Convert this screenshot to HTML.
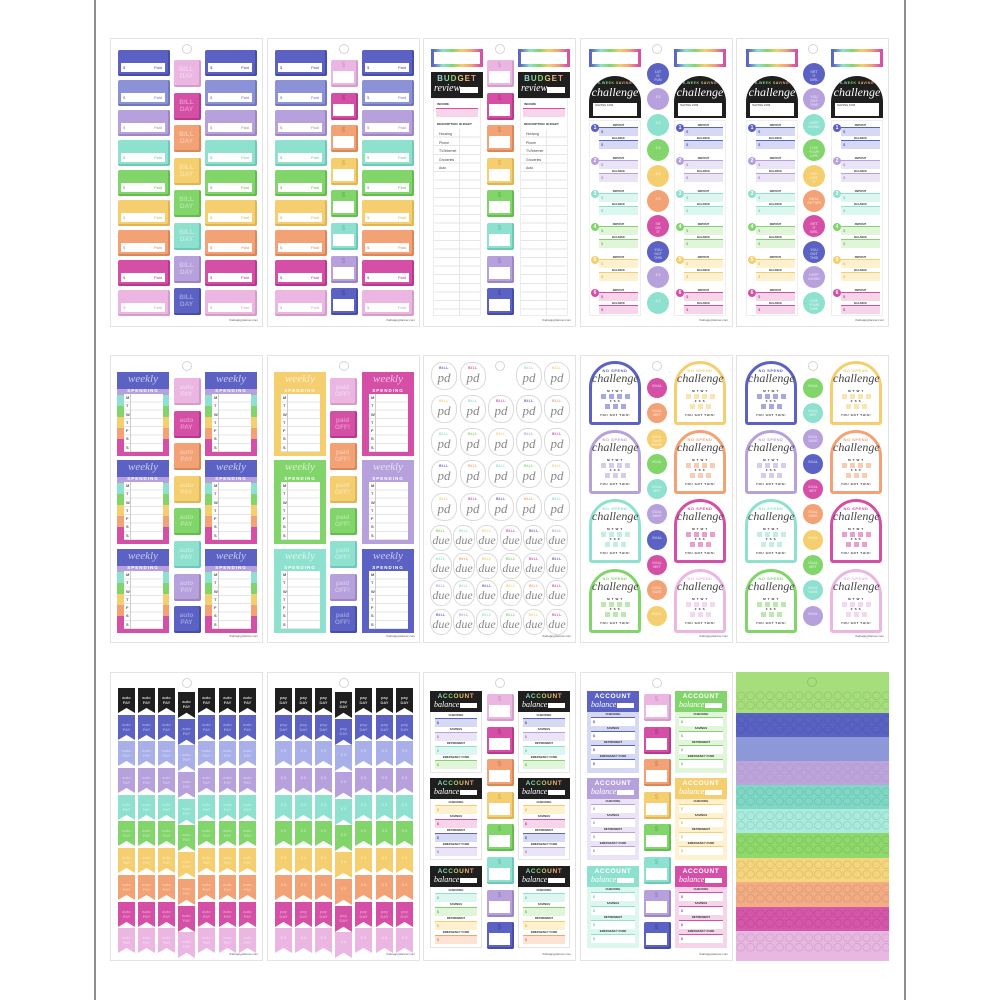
<!DOCTYPE html>
<html><head><meta charset="utf-8"><style>
*{margin:0;padding:0;box-sizing:border-box}
html,body{width:1000px;height:1000px;background:#fff;overflow:hidden}
body{position:relative;font-family:"Liberation Sans",sans-serif}
.vl{position:absolute;top:0;width:2px;height:1000px;background:#8e8e8e}
.s{position:absolute;width:153px;border:1px solid #e3e3e3;background:#fff}
.s>*{position:absolute}
.h{left:71px;top:5px;width:10px;height:10px;border:1px solid #d4d4d4;border-radius:50%}
.u{right:4px;bottom:4px;font-size:3px;color:#555;white-space:nowrap}
.N{--c:#5b62c3;--d:#464eaa;--l:#d6d9f4}
.P{--c:#8b92d8;--d:#7178c2;--l:#dfe1f6}
.Q{--c:#a9afe9;--d:#8f95d6;--l:#e3e5f8}
.L{--c:#b7a1dd;--d:#9d86c6;--l:#ebe3f6}
.M{--c:#8fe1cf;--d:#6ec9b6;--l:#dcf6f0}
.G{--c:#81d56a;--d:#66bd4f;--l:#e0f5d9}
.Y{--c:#f5cf6f;--d:#e0b654;--l:#fdf1cf}
.O{--c:#f2a274;--d:#dc875a;--l:#fce3d4}
.K{--c:#d54fa7;--d:#b83a8c;--l:#f6d4ea}
.I{--c:#ebb7e2;--d:#d69dcc;--l:#f8e6f5}
.B{--c:#1f1f1f;--d:#000;--l:#ddd}
.cl{display:flex;flex-direction:column;gap:4px;top:11px}
.lb{position:relative;width:52px;height:26px;background:var(--c);box-shadow:inset -2px -2px 0 var(--d);border-radius:2px}
.lb i{position:absolute;left:3px;top:13px;width:44px;height:9px;background:#fff;font:normal 4px/9px "Liberation Sans";color:var(--d);padding-left:2px}
.lb i em{position:absolute;right:3px;font-style:normal}
.sc{left:63px;top:21px;display:flex;flex-direction:column;gap:5.6px}
.sq{position:relative;width:27px;height:27px;background:var(--c);box-shadow:inset -2px -2px 0 var(--d);border-radius:2px;color:rgba(255,255,255,.38);font:bold 6.5px/7px "Liberation Sans";text-align:center;padding-top:6px;padding-right:2px}
.dq{position:relative;width:27px;height:27px;background:var(--c);box-shadow:inset -2px -2px 0 var(--d);border-radius:2px;color:var(--d);font:bold 7px/11px "Liberation Sans";text-align:center;padding-right:2px}
.dq i{position:absolute;left:2px;top:11px;right:4px;bottom:4px;background:#fff}
.rf{width:52px;height:18px;border:3px solid;border-image:linear-gradient(90deg,#5b62c3,#8fe1cf,#81d56a,#f5cf6f,#f2a274,#d54fa7) 1;background:#fff}
.rt{background:linear-gradient(90deg,#a9afe9,#8fe1cf,#81d56a,#f5cf6f,#f2a274,#d54fa7);-webkit-background-clip:text;background-clip:text;color:transparent}
.bg{width:52px;height:26px;background:#1f1f1f}
.bg .bt{position:absolute;left:0;right:0;top:3px;text-align:center;font:bold 8px/8px "Liberation Sans";letter-spacing:1px}
.bg .br{position:absolute;left:3px;top:11px;font:italic 10px/12px "Liberation Serif";color:#fff}
.bg i{position:absolute;right:5px;top:15px;width:18px;height:6px;background:#fff}
.li{width:48px;height:218px;border:1px solid #ececec;background-image:linear-gradient(90deg,transparent 25px,#e6e6e6 25px,#e6e6e6 26px,transparent 26px),repeating-linear-gradient(#fff 0,#fff 7.6px,#e6e6e6 7.6px,#e6e6e6 8.6px);background-size:100% 186px,100% 186px;background-position:0 30px,0 30px;background-repeat:no-repeat}
.li .a{position:absolute;left:3px;top:4px;font:bold 3px/3px "Liberation Sans";color:#333}
.li .pk{position:absolute;left:2px;right:2px;top:9px;height:9px;background:#f6d4ea;border-top:1px solid #d54fa7}
.li .b{position:absolute;left:3px;top:24px;font:bold 3px/3px "Liberation Sans";color:#333;white-space:nowrap}
.li p{position:absolute;left:5px;top:31px;font:3.5px/8.6px "Liberation Sans";color:#444}
.ar{width:52px;height:42px;background:#1f1f1f;border-radius:26px 26px 0 0}
.ar .a1{position:absolute;left:0;right:0;top:5px;text-align:center;font:bold 3.5px/4px "Liberation Sans";letter-spacing:.5px}
.ar .a2{position:absolute;left:0;right:0;top:9px;text-align:center;font:italic 12px/14px "Liberation Serif";color:#fff}
.ar i{position:absolute;left:4px;right:4px;top:27px;height:13px;background:#fff;font:normal 3px/5px "Liberation Sans";color:#333;padding-left:2px}
.dl{width:52px;height:196px;border:1px solid #eee;padding-top:3px}
.g{position:relative;height:33px}
.g b{position:absolute;left:1px;top:0;width:8px;height:8px;border-radius:50%;background:var(--c);font:bold 5px/8px "Liberation Sans";color:#fff;text-align:center}
.g i{position:absolute;left:9px;right:2px;height:9px;border-top:1.5px solid var(--c);background:var(--l);font:normal 4px/7px "Liberation Sans";color:var(--d);padding-left:2px}
.g i:nth-of-type(1){top:3px}.g i:nth-of-type(2){top:16px}
.g i span{position:absolute;top:-4px;left:0;right:0;text-align:center;font:bold 2.6px/3px "Liberation Sans";color:#333}
.cc{left:66px;top:24px;display:flex;flex-direction:column;gap:3.4px}
.ci{width:22px;height:22px;border-radius:50%;background:var(--c);color:rgba(255,255,255,.55);font:bold 3.5px/4px "Liberation Sans";text-align:center;padding-top:7px}
.cc.s2{left:66px;top:22px;gap:5.3px}
.cc.s2 .ci{width:20px;height:20px;padding-top:6px}
.wk{width:52px;height:84px;background:var(--c)}
.rb{background:linear-gradient(#5b62c3 0,#5b62c3 17px,#b7a1dd 17px,#b7a1dd 23px,#8fe1cf 23px,#8fe1cf 34px,#81d56a 34px,#81d56a 45px,#f5cf6f 45px,#f5cf6f 56px,#f2a274 56px,#f2a274 67px,#d54fa7 67px)}
.wk .wt{position:absolute;top:1px;left:0;right:0;text-align:center;font:italic 11px/13px "Liberation Serif";color:rgba(255,255,255,.65)}
.wk .sp{position:absolute;top:16px;left:0;right:0;text-align:center;font:bold 4.5px/6px "Liberation Sans";letter-spacing:1px;color:#fff}
.wk .wb{position:absolute;left:7px;top:22px;width:39px;height:58px;background:repeating-linear-gradient(#fff 0,#fff 7.3px,#e4e4e4 7.3px,#e4e4e4 8.3px)}
.wk .wb p{font:bold 4px/8.3px "Liberation Sans";color:#555;padding-left:2px;width:7px;border-right:1px solid #ccc;height:58px}
.bb{width:26px;height:28px;border:1px solid #dadada;border-radius:42% 46% 44% 48%;text-align:center;font:italic 13px/13px "Liberation Serif";color:#888;padding-top:3px}
.bb u{display:block;text-decoration:none;font:bold 3.5px/5px "Liberation Sans";color:var(--c);letter-spacing:.5px}
.bb.d{width:22px;height:26px;font-size:12px}
.ns{width:52px;height:64px;border:3px solid var(--c);border-radius:26px 26px 3px 3px;background:#fff}
.ns .t1{position:absolute;left:0;right:0;top:4px;text-align:center;font:bold 4px/5px "Liberation Sans";color:var(--c);letter-spacing:.5px}
.ns .t2{position:absolute;left:0;right:0;top:8px;text-align:center;font:italic 12px/13px "Liberation Serif";color:#444}
.ns .t3{position:absolute;left:0;right:0;text-align:center;font:bold 3px/4px "Liberation Sans";color:#333;letter-spacing:.6px}
.ns .gr{position:absolute;height:5px;background:repeating-linear-gradient(90deg,var(--c) 0,var(--c) 5px,transparent 5px,transparent 8px);opacity:.55}
.fr{left:0;width:152px;height:30px}
.fr i{position:absolute;top:0;width:17px;height:25px;background:var(--c);clip-path:polygon(0 0,100% 0,100% 100%,50% 80%,0 100%);font:bold 4px/5px "Liberation Sans";color:rgba(255,255,255,.4);text-align:center;padding-top:7px;font-style:normal}
.fr.B i{color:rgba(255,255,255,.75)}
.fr i:nth-child(1){left:7px}.fr i:nth-child(2){left:27px}.fr i:nth-child(3){left:47px}
.fr i:nth-child(4){left:67px;top:4px;height:26px}
.fr i:nth-child(5){left:87px}.fr i:nth-child(6){left:108px}.fr i:nth-child(7){left:128px}
.ac{width:52px;height:82px;border:1px solid #e4e4e4;background:#fff}
.ac>b{position:absolute;left:-1px;top:-1px;width:52px;height:21px;background:#1f1f1f}
.ac .at{position:absolute;left:0;right:0;top:2px;text-align:center;font:bold 6.5px/7px "Liberation Sans";letter-spacing:.6px}
.ac .ab{position:absolute;left:4px;top:9px;font:italic 8px/10px "Liberation Serif";color:#fff}
.ac>b i{position:absolute;right:5px;top:12px;width:17px;height:5px;background:#fff}
.it{position:absolute;left:4px;right:4px;height:9px;border-top:1.5px solid var(--c);background:var(--l);font:bold 3.5px/8px "Liberation Sans";color:var(--d);padding-left:2px}
.it span{position:absolute;top:-5px;left:0;right:0;text-align:center;font-size:2.8px;line-height:3px;color:#333}
.ac.cx{background:var(--l);border:none}
.ac.cx>b{background:var(--c);left:0;top:0}
.ac.cx .at{background:none;color:#fff;-webkit-text-fill-color:#fff}
.ac.cx .it{background:#fff}
.st{left:0;width:153px;background-color:var(--c)}
.pt{left:0;width:153px;background-image:radial-gradient(circle,transparent 3.2px,rgba(0,0,0,.09) 3.5px,rgba(0,0,0,.09) 4.2px,transparent 4.5px);background-size:9.7px 9.5px;background-position:0 0}
</style></head><body>
<div class="vl" style="left:94px"></div>
<div class="vl" style="left:904px"></div>

<!-- ROW 1 -->
<div class="s" style="left:110px;top:38px;height:289px">
<b class="h"></b>
<div class="cl" style="left:7px">
<div class="lb N"><i>$<em>Paid</em></i></div><div class="lb P"><i>$<em>Paid</em></i></div><div class="lb L"><i>$<em>Paid</em></i></div><div class="lb M"><i>$<em>Paid</em></i></div><div class="lb G"><i>$<em>Paid</em></i></div><div class="lb Y"><i>$<em>Paid</em></i></div><div class="lb O"><i>$<em>Paid</em></i></div><div class="lb K"><i>$<em>Paid</em></i></div><div class="lb I"><i>$<em>Paid</em></i></div>
</div>
<div class="sc">
<div class="sq I">BILL<br>DAY</div><div class="sq K">BILL<br>DAY</div><div class="sq O">BILL<br>DAY</div><div class="sq Y">BILL<br>DAY</div><div class="sq G">BILL<br>DAY</div><div class="sq M">BILL<br>DAY</div><div class="sq L">BILL<br>DAY</div><div class="sq N">BILL<br>DAY</div>
</div>
<div class="cl" style="left:94px">
<div class="lb N"><i>$<em>Paid</em></i></div><div class="lb P"><i>$<em>Paid</em></i></div><div class="lb L"><i>$<em>Paid</em></i></div><div class="lb M"><i>$<em>Paid</em></i></div><div class="lb G"><i>$<em>Paid</em></i></div><div class="lb Y"><i>$<em>Paid</em></i></div><div class="lb O"><i>$<em>Paid</em></i></div><div class="lb K"><i>$<em>Paid</em></i></div><div class="lb I"><i>$<em>Paid</em></i></div>
</div>
<p class="u">thehappyplanner.com</p>
</div>

<div class="s" style="left:267px;top:38px;height:289px">
<b class="h"></b>
<div class="cl" style="left:7px">
<div class="lb N"><i>$<em>Paid</em></i></div><div class="lb P"><i>$<em>Paid</em></i></div><div class="lb L"><i>$<em>Paid</em></i></div><div class="lb M"><i>$<em>Paid</em></i></div><div class="lb G"><i>$<em>Paid</em></i></div><div class="lb Y"><i>$<em>Paid</em></i></div><div class="lb O"><i>$<em>Paid</em></i></div><div class="lb K"><i>$<em>Paid</em></i></div><div class="lb I"><i>$<em>Paid</em></i></div>
</div>
<div class="sc">
<div class="dq I">$<i></i></div><div class="dq K">$<i></i></div><div class="dq O">$<i></i></div><div class="dq Y">$<i></i></div><div class="dq G">$<i></i></div><div class="dq M">$<i></i></div><div class="dq L">$<i></i></div><div class="dq N">$<i></i></div>
</div>
<div class="cl" style="left:94px">
<div class="lb N"><i>$<em>Paid</em></i></div><div class="lb P"><i>$<em>Paid</em></i></div><div class="lb L"><i>$<em>Paid</em></i></div><div class="lb M"><i>$<em>Paid</em></i></div><div class="lb G"><i>$<em>Paid</em></i></div><div class="lb Y"><i>$<em>Paid</em></i></div><div class="lb O"><i>$<em>Paid</em></i></div><div class="lb K"><i>$<em>Paid</em></i></div><div class="lb I"><i>$<em>Paid</em></i></div>
</div>
<p class="u">thehappyplanner.com</p>
</div>

<div class="s" style="left:423px;top:38px;height:289px">
<b class="h"></b>
<div class="rf" style="left:7px;top:10px"></div>
<div class="rf" style="left:94px;top:10px"></div>
<div class="bg" style="left:7px;top:33px"><span class="bt rt">BUDGET</span><span class="br">review</span><i></i></div>
<div class="bg" style="left:94px;top:33px"><span class="bt rt">BUDGET</span><span class="br">review</span><i></i></div>
<div class="li" style="left:9px;top:59px"><span class="a">INCOME</span><i class="pk"></i><span class="b">DESCRIPTION&nbsp; BUDGET</span><p>Housing<br>Phone<br>TV/Internet<br>Groceries<br>Auto</p></div>
<div class="li" style="left:96px;top:59px"><span class="a">INCOME</span><i class="pk"></i><span class="b">DESCRIPTION&nbsp; BUDGET</span><p>Housing<br>Phone<br>TV/Internet<br>Groceries<br>Auto</p></div>
<div class="sc">
<div class="dq I">$<i></i></div><div class="dq K">$<i></i></div><div class="dq O">$<i></i></div><div class="dq Y">$<i></i></div><div class="dq G">$<i></i></div><div class="dq M">$<i></i></div><div class="dq L">$<i></i></div><div class="dq N">$<i></i></div>
</div>
<p class="u">thehappyplanner.com</p>
</div>

<div class="s" style="left:580px;top:38px;height:289px">
<b class="h"></b>
<div class="rf" style="left:8px;top:10px"></div>
<div class="rf" style="left:93px;top:10px"></div>
<div class="ar" style="left:8px;top:37px"><span class="a1 rt">6-WEEK SAVING</span><span class="a2">challenge</span><i>SAVING FOR</i></div>
<div class="ar" style="left:93px;top:37px"><span class="a1 rt">6-WEEK SAVING</span><span class="a2">challenge</span><i>SAVING FOR</i></div>
<div class="dl" style="left:8px;top:81px">
<div class="g N"><b>1</b><i><span>DEPOSIT</span>$</i><i><span>BALANCE</span>$</i></div>
<div class="g L"><b>2</b><i><span>DEPOSIT</span>$</i><i><span>BALANCE</span>$</i></div>
<div class="g M"><b>3</b><i><span>DEPOSIT</span>$</i><i><span>BALANCE</span>$</i></div>
<div class="g G"><b>4</b><i><span>DEPOSIT</span>$</i><i><span>BALANCE</span>$</i></div>
<div class="g Y"><b>5</b><i><span>DEPOSIT</span>$</i><i><span>BALANCE</span>$</i></div>
<div class="g K"><b>6</b><i><span>DEPOSIT</span>$</i><i><span>BALANCE</span>$</i></div>
</div>
<div class="dl" style="left:93px;top:81px">
<div class="g N"><b>1</b><i><span>DEPOSIT</span>$</i><i><span>BALANCE</span>$</i></div>
<div class="g L"><b>2</b><i><span>DEPOSIT</span>$</i><i><span>BALANCE</span>$</i></div>
<div class="g M"><b>3</b><i><span>DEPOSIT</span>$</i><i><span>BALANCE</span>$</i></div>
<div class="g G"><b>4</b><i><span>DEPOSIT</span>$</i><i><span>BALANCE</span>$</i></div>
<div class="g Y"><b>5</b><i><span>DEPOSIT</span>$</i><i><span>BALANCE</span>$</i></div>
<div class="g K"><b>6</b><i><span>DEPOSIT</span>$</i><i><span>BALANCE</span>$</i></div>
</div>
<div class="cc">
<div class="ci N">1ST<br>IS<br>FUN</div><div class="ci L">$ $</div><div class="ci M">$ $</div><div class="ci G">$ $</div><div class="ci Y">$ $</div><div class="ci O">$ $</div><div class="ci K">I'M<br>ON<br>IT</div><div class="ci N">YOU<br>GOT<br>THIS</div><div class="ci L">$ $</div><div class="ci M">$ $</div>
</div>
<p class="u">thehappyplanner.com</p>
</div>

<div class="s" style="left:736px;top:38px;height:289px">
<b class="h"></b>
<div class="rf" style="left:9px;top:10px"></div>
<div class="rf" style="left:94px;top:10px"></div>
<div class="ar" style="left:9px;top:37px"><span class="a1 rt">6-WEEK SAVING</span><span class="a2">challenge</span><i>SAVING FOR</i></div>
<div class="ar" style="left:94px;top:37px"><span class="a1 rt">6-WEEK SAVING</span><span class="a2">challenge</span><i>SAVING FOR</i></div>
<div class="dl" style="left:9px;top:81px">
<div class="g N"><b>1</b><i><span>DEPOSIT</span>$</i><i><span>BALANCE</span>$</i></div>
<div class="g L"><b>2</b><i><span>DEPOSIT</span>$</i><i><span>BALANCE</span>$</i></div>
<div class="g M"><b>3</b><i><span>DEPOSIT</span>$</i><i><span>BALANCE</span>$</i></div>
<div class="g G"><b>4</b><i><span>DEPOSIT</span>$</i><i><span>BALANCE</span>$</i></div>
<div class="g Y"><b>5</b><i><span>DEPOSIT</span>$</i><i><span>BALANCE</span>$</i></div>
<div class="g K"><b>6</b><i><span>DEPOSIT</span>$</i><i><span>BALANCE</span>$</i></div>
</div>
<div class="dl" style="left:94px;top:81px">
<div class="g N"><b>1</b><i><span>DEPOSIT</span>$</i><i><span>BALANCE</span>$</i></div>
<div class="g L"><b>2</b><i><span>DEPOSIT</span>$</i><i><span>BALANCE</span>$</i></div>
<div class="g M"><b>3</b><i><span>DEPOSIT</span>$</i><i><span>BALANCE</span>$</i></div>
<div class="g G"><b>4</b><i><span>DEPOSIT</span>$</i><i><span>BALANCE</span>$</i></div>
<div class="g Y"><b>5</b><i><span>DEPOSIT</span>$</i><i><span>BALANCE</span>$</i></div>
<div class="g K"><b>6</b><i><span>DEPOSIT</span>$</i><i><span>BALANCE</span>$</i></div>
</div>
<div class="cc">
<div class="ci N">GET<br>IT<br>GIRL</div><div class="ci L">YOU<br>GOT<br>THIS</div><div class="ci M">KEEP<br>GOING</div><div class="ci G">LIVE<br>YOUR<br>LIFE</div><div class="ci Y">YOU<br>GOT<br>IT</div><div class="ci O">GOAL<br>GETTER</div><div class="ci K">GET<br>IT<br>GIRL</div><div class="ci N">YOU<br>GOT<br>THIS</div><div class="ci L">KEEP<br>GOING</div><div class="ci M">LIVE<br>YOUR<br>LIFE</div>
</div>
<p class="u">thehappyplanner.com</p>
</div>

<!-- ROW 2 -->
<div class="s" style="left:110px;top:355px;height:288px">
<b class="h"></b>
<div class="wk rb" style="left:6px;top:16px"><span class="wt">weekly</span><span class="sp">SPENDING</span><div class="wb"><p>M<br>T<br>W<br>T<br>F<br>S<br>S</p></div></div>
<div class="wk rb" style="left:6px;top:104px"><span class="wt">weekly</span><span class="sp">SPENDING</span><div class="wb"><p>M<br>T<br>W<br>T<br>F<br>S<br>S</p></div></div>
<div class="wk rb" style="left:6px;top:193px"><span class="wt">weekly</span><span class="sp">SPENDING</span><div class="wb"><p>M<br>T<br>W<br>T<br>F<br>S<br>S</p></div></div>
<div class="wk rb" style="left:94px;top:16px"><span class="wt">weekly</span><span class="sp">SPENDING</span><div class="wb"><p>M<br>T<br>W<br>T<br>F<br>S<br>S</p></div></div>
<div class="wk rb" style="left:94px;top:104px"><span class="wt">weekly</span><span class="sp">SPENDING</span><div class="wb"><p>M<br>T<br>W<br>T<br>F<br>S<br>S</p></div></div>
<div class="wk rb" style="left:94px;top:193px"><span class="wt">weekly</span><span class="sp">SPENDING</span><div class="wb"><p>M<br>T<br>W<br>T<br>F<br>S<br>S</p></div></div>
<div class="sc" style="top:22px">
<div class="sq I">auto<br>PAY</div><div class="sq K">auto<br>PAY</div><div class="sq O">auto<br>PAY</div><div class="sq Y">auto<br>PAY</div><div class="sq G">auto<br>PAY</div><div class="sq M">auto<br>PAY</div><div class="sq L">auto<br>PAY</div><div class="sq N">auto<br>PAY</div>
</div>
<p class="u">thehappyplanner.com</p>
</div>

<div class="s" style="left:267px;top:355px;height:288px">
<b class="h"></b>
<div class="wk Y" style="left:6px;top:16px"><span class="wt">weekly</span><span class="sp">SPENDING</span><div class="wb"><p>M<br>T<br>W<br>T<br>F<br>S<br>S</p></div></div>
<div class="wk G" style="left:6px;top:104px"><span class="wt">weekly</span><span class="sp">SPENDING</span><div class="wb"><p>M<br>T<br>W<br>T<br>F<br>S<br>S</p></div></div>
<div class="wk M" style="left:6px;top:193px"><span class="wt">weekly</span><span class="sp">SPENDING</span><div class="wb"><p>M<br>T<br>W<br>T<br>F<br>S<br>S</p></div></div>
<div class="wk K" style="left:94px;top:16px"><span class="wt">weekly</span><span class="sp">SPENDING</span><div class="wb"><p>M<br>T<br>W<br>T<br>F<br>S<br>S</p></div></div>
<div class="wk L" style="left:94px;top:104px"><span class="wt">weekly</span><span class="sp">SPENDING</span><div class="wb"><p>M<br>T<br>W<br>T<br>F<br>S<br>S</p></div></div>
<div class="wk N" style="left:94px;top:193px"><span class="wt">weekly</span><span class="sp">SPENDING</span><div class="wb"><p>M<br>T<br>W<br>T<br>F<br>S<br>S</p></div></div>
<div class="sc" style="top:22px;left:62px">
<div class="sq I">paid<br>OFF!</div><div class="sq K">paid<br>OFF!</div><div class="sq O">paid<br>OFF!</div><div class="sq Y">paid<br>OFF!</div><div class="sq G">paid<br>OFF!</div><div class="sq M">paid<br>OFF!</div><div class="sq L">paid<br>OFF!</div><div class="sq N">paid<br>OFF!</div>
</div>
<p class="u">thehappyplanner.com</p>
</div>

<div class="s" style="left:423px;top:355px;height:288px">
<b class="h"></b>
<div class="bb N" style="left:7px;top:6px"><u>BILL</u>pd</div><div class="bb K" style="left:36px;top:6px"><u>BILL</u>pd</div><div class="bb M" style="left:92px;top:6px"><u>BILL</u>pd</div><div class="bb Y" style="left:120px;top:6px"><u>BILL</u>pd</div>
<div class="bb Y" style="left:7px;top:39px"><u>BILL</u>pd</div><div class="bb M" style="left:36px;top:39px"><u>BILL</u>pd</div><div class="bb K" style="left:64px;top:39px"><u>BILL</u>pd</div><div class="bb N" style="left:92px;top:39px"><u>BILL</u>pd</div><div class="bb O" style="left:120px;top:39px"><u>BILL</u>pd</div>
<div class="bb M" style="left:7px;top:72px"><u>BILL</u>pd</div><div class="bb G" style="left:36px;top:72px"><u>BILL</u>pd</div><div class="bb Y" style="left:64px;top:72px"><u>BILL</u>pd</div><div class="bb L" style="left:92px;top:72px"><u>BILL</u>pd</div><div class="bb K" style="left:120px;top:72px"><u>BILL</u>pd</div>
<div class="bb N" style="left:7px;top:104px"><u>BILL</u>pd</div><div class="bb O" style="left:36px;top:104px"><u>BILL</u>pd</div><div class="bb M" style="left:64px;top:104px"><u>BILL</u>pd</div><div class="bb G" style="left:92px;top:104px"><u>BILL</u>pd</div><div class="bb Y" style="left:120px;top:104px"><u>BILL</u>pd</div>
<div class="bb Y" style="left:7px;top:137px"><u>BILL</u>pd</div><div class="bb K" style="left:36px;top:137px"><u>BILL</u>pd</div><div class="bb N" style="left:64px;top:137px"><u>BILL</u>pd</div><div class="bb O" style="left:92px;top:137px"><u>BILL</u>pd</div><div class="bb M" style="left:120px;top:137px"><u>BILL</u>pd</div>
<div class="bb d G" style="left:6px;top:169px"><u>BILL</u>due</div><div class="bb d M" style="left:29px;top:169px"><u>BILL</u>due</div><div class="bb d Y" style="left:52px;top:169px"><u>BILL</u>due</div><div class="bb d K" style="left:76px;top:169px"><u>BILL</u>due</div><div class="bb d N" style="left:99px;top:169px"><u>BILL</u>due</div><div class="bb d L" style="left:122px;top:169px"><u>BILL</u>due</div>
<div class="bb d M" style="left:6px;top:197px"><u>BILL</u>due</div><div class="bb d O" style="left:29px;top:197px"><u>BILL</u>due</div><div class="bb d Y" style="left:52px;top:197px"><u>BILL</u>due</div><div class="bb d G" style="left:76px;top:197px"><u>BILL</u>due</div><div class="bb d K" style="left:99px;top:197px"><u>BILL</u>due</div><div class="bb d N" style="left:122px;top:197px"><u>BILL</u>due</div>
<div class="bb d L" style="left:6px;top:224px"><u>BILL</u>due</div><div class="bb d M" style="left:29px;top:224px"><u>BILL</u>due</div><div class="bb d N" style="left:52px;top:224px"><u>BILL</u>due</div><div class="bb d Y" style="left:76px;top:224px"><u>BILL</u>due</div><div class="bb d O" style="left:99px;top:224px"><u>BILL</u>due</div><div class="bb d K" style="left:122px;top:224px"><u>BILL</u>due</div>
<div class="bb d N" style="left:6px;top:253px"><u>BILL</u>due</div><div class="bb d L" style="left:29px;top:253px"><u>BILL</u>due</div><div class="bb d M" style="left:52px;top:253px"><u>BILL</u>due</div><div class="bb d G" style="left:76px;top:253px"><u>BILL</u>due</div><div class="bb d Y" style="left:99px;top:253px"><u>BILL</u>due</div><div class="bb d K" style="left:122px;top:253px"><u>BILL</u>due</div>
<p class="u">thehappyplanner.com</p>
</div>

<div class="s" style="left:580px;top:355px;height:288px">
<b class="h"></b>
<div class="ns N" style="left:8px;top:5px"><span class="t1">NO SPEND</span><span class="t2">challenge</span><span class="t3" style="top:25px">M T W T</span><i class="gr" style="left:9px;top:30px;width:29px"></i><span class="t3" style="top:35px">F S S</span><i class="gr" style="left:13px;top:40px;width:21px"></i><span class="t3" style="top:49px">YOU GOT THIS!</span></div>
<div class="ns L" style="left:8px;top:74px"><span class="t1">NO SPEND</span><span class="t2">challenge</span><span class="t3" style="top:25px">M T W T</span><i class="gr" style="left:9px;top:30px;width:29px"></i><span class="t3" style="top:35px">F S S</span><i class="gr" style="left:13px;top:40px;width:21px"></i><span class="t3" style="top:49px">YOU GOT THIS!</span></div>
<div class="ns M" style="left:8px;top:143px"><span class="t1">NO SPEND</span><span class="t2">challenge</span><span class="t3" style="top:25px">M T W T</span><i class="gr" style="left:9px;top:30px;width:29px"></i><span class="t3" style="top:35px">F S S</span><i class="gr" style="left:13px;top:40px;width:21px"></i><span class="t3" style="top:49px">YOU GOT THIS!</span></div>
<div class="ns G" style="left:8px;top:213px"><span class="t1">NO SPEND</span><span class="t2">challenge</span><span class="t3" style="top:25px">M T W T</span><i class="gr" style="left:9px;top:30px;width:29px"></i><span class="t3" style="top:35px">F S S</span><i class="gr" style="left:13px;top:40px;width:21px"></i><span class="t3" style="top:49px">YOU GOT THIS!</span></div>
<div class="ns Y" style="left:93px;top:5px"><span class="t1">NO SPEND</span><span class="t2">challenge</span><span class="t3" style="top:25px">M T W T</span><i class="gr" style="left:9px;top:30px;width:29px"></i><span class="t3" style="top:35px">F S S</span><i class="gr" style="left:13px;top:40px;width:21px"></i><span class="t3" style="top:49px">YOU GOT THIS!</span></div>
<div class="ns O" style="left:93px;top:74px"><span class="t1">NO SPEND</span><span class="t2">challenge</span><span class="t3" style="top:25px">M T W T</span><i class="gr" style="left:9px;top:30px;width:29px"></i><span class="t3" style="top:35px">F S S</span><i class="gr" style="left:13px;top:40px;width:21px"></i><span class="t3" style="top:49px">YOU GOT THIS!</span></div>
<div class="ns K" style="left:93px;top:143px"><span class="t1">NO SPEND</span><span class="t2">challenge</span><span class="t3" style="top:25px">M T W T</span><i class="gr" style="left:9px;top:30px;width:29px"></i><span class="t3" style="top:35px">F S S</span><i class="gr" style="left:13px;top:40px;width:21px"></i><span class="t3" style="top:49px">YOU GOT THIS!</span></div>
<div class="ns I" style="left:93px;top:213px"><span class="t1">NO SPEND</span><span class="t2">challenge</span><span class="t3" style="top:25px">M T W T</span><i class="gr" style="left:9px;top:30px;width:29px"></i><span class="t3" style="top:35px">F S S</span><i class="gr" style="left:13px;top:40px;width:21px"></i><span class="t3" style="top:49px">YOU GOT THIS!</span></div>
<div class="cc s2">
<div class="ci K">GOAL</div><div class="ci O">GOAL<br>MET</div><div class="ci Y">GOAL<br>SAVE<br>MORE</div><div class="ci G">GOAL</div><div class="ci M">GOAL<br>MET</div><div class="ci L">GOAL<br>SAVE</div><div class="ci N">GOAL</div><div class="ci K">GOAL<br>MET</div><div class="ci O">GOAL<br>SAVE</div><div class="ci Y">GOAL</div>
</div>
<p class="u">thehappyplanner.com</p>
</div>

<div class="s" style="left:736px;top:355px;height:288px">
<b class="h"></b>
<div class="ns N" style="left:8px;top:5px"><span class="t1">NO SPEND</span><span class="t2">challenge</span><span class="t3" style="top:25px">M T W T</span><i class="gr" style="left:9px;top:30px;width:29px"></i><span class="t3" style="top:35px">F S S</span><i class="gr" style="left:13px;top:40px;width:21px"></i><span class="t3" style="top:49px">YOU GOT THIS!</span></div>
<div class="ns L" style="left:8px;top:74px"><span class="t1">NO SPEND</span><span class="t2">challenge</span><span class="t3" style="top:25px">M T W T</span><i class="gr" style="left:9px;top:30px;width:29px"></i><span class="t3" style="top:35px">F S S</span><i class="gr" style="left:13px;top:40px;width:21px"></i><span class="t3" style="top:49px">YOU GOT THIS!</span></div>
<div class="ns M" style="left:8px;top:143px"><span class="t1">NO SPEND</span><span class="t2">challenge</span><span class="t3" style="top:25px">M T W T</span><i class="gr" style="left:9px;top:30px;width:29px"></i><span class="t3" style="top:35px">F S S</span><i class="gr" style="left:13px;top:40px;width:21px"></i><span class="t3" style="top:49px">YOU GOT THIS!</span></div>
<div class="ns G" style="left:8px;top:213px"><span class="t1">NO SPEND</span><span class="t2">challenge</span><span class="t3" style="top:25px">M T W T</span><i class="gr" style="left:9px;top:30px;width:29px"></i><span class="t3" style="top:35px">F S S</span><i class="gr" style="left:13px;top:40px;width:21px"></i><span class="t3" style="top:49px">YOU GOT THIS!</span></div>
<div class="ns Y" style="left:93px;top:5px"><span class="t1">NO SPEND</span><span class="t2">challenge</span><span class="t3" style="top:25px">M T W T</span><i class="gr" style="left:9px;top:30px;width:29px"></i><span class="t3" style="top:35px">F S S</span><i class="gr" style="left:13px;top:40px;width:21px"></i><span class="t3" style="top:49px">YOU GOT THIS!</span></div>
<div class="ns O" style="left:93px;top:74px"><span class="t1">NO SPEND</span><span class="t2">challenge</span><span class="t3" style="top:25px">M T W T</span><i class="gr" style="left:9px;top:30px;width:29px"></i><span class="t3" style="top:35px">F S S</span><i class="gr" style="left:13px;top:40px;width:21px"></i><span class="t3" style="top:49px">YOU GOT THIS!</span></div>
<div class="ns K" style="left:93px;top:143px"><span class="t1">NO SPEND</span><span class="t2">challenge</span><span class="t3" style="top:25px">M T W T</span><i class="gr" style="left:9px;top:30px;width:29px"></i><span class="t3" style="top:35px">F S S</span><i class="gr" style="left:13px;top:40px;width:21px"></i><span class="t3" style="top:49px">YOU GOT THIS!</span></div>
<div class="ns I" style="left:93px;top:213px"><span class="t1">NO SPEND</span><span class="t2">challenge</span><span class="t3" style="top:25px">M T W T</span><i class="gr" style="left:9px;top:30px;width:29px"></i><span class="t3" style="top:35px">F S S</span><i class="gr" style="left:13px;top:40px;width:21px"></i><span class="t3" style="top:49px">YOU GOT THIS!</span></div>
<div class="cc s2">
<div class="ci G">GOAL</div><div class="ci M">GOAL<br>MET</div><div class="ci L">GOAL<br>SAVE</div><div class="ci N">GOAL</div><div class="ci K">GOAL<br>MET</div><div class="ci O">GOAL<br>SAVE</div><div class="ci Y">GOAL</div><div class="ci G">GOAL<br>MET</div><div class="ci M">GOAL<br>SAVE</div><div class="ci L">GOAL</div>
</div>
<p class="u">thehappyplanner.com</p>
</div>

<!-- ROW 3 -->
<div class="s" style="left:110px;top:672px;height:289px">
<b class="h"></b>
<div class="fr B" style="top:15px"><i>auto<br>PAY</i><i>auto<br>PAY</i><i>auto<br>PAY</i><i>auto<br>PAY</i><i>auto<br>PAY</i><i>auto<br>PAY</i><i>auto<br>PAY</i></div>
<div class="fr N" style="top:42px"><i>auto<br>PAY</i><i>auto<br>PAY</i><i>auto<br>PAY</i><i>auto<br>PAY</i><i>auto<br>PAY</i><i>auto<br>PAY</i><i>auto<br>PAY</i></div>
<div class="fr Q" style="top:68px"><i>auto<br>PAY</i><i>auto<br>PAY</i><i>auto<br>PAY</i><i>auto<br>PAY</i><i>auto<br>PAY</i><i>auto<br>PAY</i><i>auto<br>PAY</i></div>
<div class="fr L" style="top:95px"><i>auto<br>PAY</i><i>auto<br>PAY</i><i>auto<br>PAY</i><i>auto<br>PAY</i><i>auto<br>PAY</i><i>auto<br>PAY</i><i>auto<br>PAY</i></div>
<div class="fr M" style="top:122px"><i>auto<br>PAY</i><i>auto<br>PAY</i><i>auto<br>PAY</i><i>auto<br>PAY</i><i>auto<br>PAY</i><i>auto<br>PAY</i><i>auto<br>PAY</i></div>
<div class="fr G" style="top:148px"><i>auto<br>PAY</i><i>auto<br>PAY</i><i>auto<br>PAY</i><i>auto<br>PAY</i><i>auto<br>PAY</i><i>auto<br>PAY</i><i>auto<br>PAY</i></div>
<div class="fr Y" style="top:175px"><i>auto<br>PAY</i><i>auto<br>PAY</i><i>auto<br>PAY</i><i>auto<br>PAY</i><i>auto<br>PAY</i><i>auto<br>PAY</i><i>auto<br>PAY</i></div>
<div class="fr O" style="top:202px"><i>auto<br>PAY</i><i>auto<br>PAY</i><i>auto<br>PAY</i><i>auto<br>PAY</i><i>auto<br>PAY</i><i>auto<br>PAY</i><i>auto<br>PAY</i></div>
<div class="fr K" style="top:229px"><i>auto<br>PAY</i><i>auto<br>PAY</i><i>auto<br>PAY</i><i>auto<br>PAY</i><i>auto<br>PAY</i><i>auto<br>PAY</i><i>auto<br>PAY</i></div>
<div class="fr I" style="top:255px"><i>auto<br>PAY</i><i>auto<br>PAY</i><i>auto<br>PAY</i><i>auto<br>PAY</i><i>auto<br>PAY</i><i>auto<br>PAY</i><i>auto<br>PAY</i></div>
<p class="u">thehappyplanner.com</p>
</div>

<div class="s" style="left:267px;top:672px;height:289px">
<b class="h"></b>
<div class="fr B" style="top:15px"><i>pay<br>DAY</i><i>pay<br>DAY</i><i>pay<br>DAY</i><i>pay<br>DAY</i><i>pay<br>DAY</i><i>pay<br>DAY</i><i>pay<br>DAY</i></div>
<div class="fr N" style="top:42px"><i>pay<br>DAY</i><i>pay<br>DAY</i><i>pay<br>DAY</i><i>pay<br>DAY</i><i>pay<br>DAY</i><i>pay<br>DAY</i><i>pay<br>DAY</i></div>
<div class="fr Q" style="top:68px"><i>$ $</i><i>$ $</i><i>$ $</i><i>$ $</i><i>$ $</i><i>$ $</i><i>$ $</i></div>
<div class="fr L" style="top:95px"><i>$ $</i><i>$ $</i><i>$ $</i><i>$ $</i><i>$ $</i><i>$ $</i><i>$ $</i></div>
<div class="fr M" style="top:122px"><i>$ $</i><i>$ $</i><i>$ $</i><i>$ $</i><i>$ $</i><i>$ $</i><i>$ $</i></div>
<div class="fr G" style="top:148px"><i>$ $</i><i>$ $</i><i>$ $</i><i>$ $</i><i>$ $</i><i>$ $</i><i>$ $</i></div>
<div class="fr Y" style="top:175px"><i>$ $</i><i>$ $</i><i>$ $</i><i>$ $</i><i>$ $</i><i>$ $</i><i>$ $</i></div>
<div class="fr O" style="top:202px"><i>$ $</i><i>$ $</i><i>$ $</i><i>$ $</i><i>$ $</i><i>$ $</i><i>$ $</i></div>
<div class="fr K" style="top:229px"><i>pay<br>DAY</i><i>pay<br>DAY</i><i>pay<br>DAY</i><i>pay<br>DAY</i><i>pay<br>DAY</i><i>pay<br>DAY</i><i>pay<br>DAY</i></div>
<div class="fr I" style="top:255px"><i>$ $</i><i>$ $</i><i>$ $</i><i>$ $</i><i>$ $</i><i>$ $</i><i>$ $</i></div>
<p class="u">thehappyplanner.com</p>
</div>

<div class="s" style="left:423px;top:672px;height:289px">
<b class="h"></b>
<div class="ac" style="left:6px;top:18px"><b><span class="at rt">ACCOUNT</span><span class="ab">balance</span><i></i></b><p class="it N" style="top:26px"><span>CHECKING</span>$</p><p class="it L" style="top:40px"><span>SAVINGS</span>$</p><p class="it M" style="top:54px"><span>RETIREMENT</span>$</p><p class="it G" style="top:68px"><span>EMERGENCY FUND</span>$</p></div>
<div class="ac" style="left:6px;top:105px"><b><span class="at rt">ACCOUNT</span><span class="ab">balance</span><i></i></b><p class="it Y" style="top:26px"><span>CHECKING</span>$</p><p class="it K" style="top:40px"><span>SAVINGS</span>$</p><p class="it N" style="top:54px"><span>RETIREMENT</span>$</p><p class="it L" style="top:68px"><span>EMERGENCY FUND</span>$</p></div>
<div class="ac" style="left:6px;top:193px"><b><span class="at rt">ACCOUNT</span><span class="ab">balance</span><i></i></b><p class="it M" style="top:26px"><span>CHECKING</span>$</p><p class="it G" style="top:40px"><span>SAVINGS</span>$</p><p class="it Y" style="top:54px"><span>RETIREMENT</span>$</p><p class="it O" style="top:68px"><span>EMERGENCY FUND</span>$</p></div>
<div class="ac" style="left:94px;top:18px"><b><span class="at rt">ACCOUNT</span><span class="ab">balance</span><i></i></b><p class="it N" style="top:26px"><span>CHECKING</span>$</p><p class="it L" style="top:40px"><span>SAVINGS</span>$</p><p class="it M" style="top:54px"><span>RETIREMENT</span>$</p><p class="it G" style="top:68px"><span>EMERGENCY FUND</span>$</p></div>
<div class="ac" style="left:94px;top:105px"><b><span class="at rt">ACCOUNT</span><span class="ab">balance</span><i></i></b><p class="it Y" style="top:26px"><span>CHECKING</span>$</p><p class="it K" style="top:40px"><span>SAVINGS</span>$</p><p class="it N" style="top:54px"><span>RETIREMENT</span>$</p><p class="it L" style="top:68px"><span>EMERGENCY FUND</span>$</p></div>
<div class="ac" style="left:94px;top:193px"><b><span class="at rt">ACCOUNT</span><span class="ab">balance</span><i></i></b><p class="it M" style="top:26px"><span>CHECKING</span>$</p><p class="it G" style="top:40px"><span>SAVINGS</span>$</p><p class="it Y" style="top:54px"><span>RETIREMENT</span>$</p><p class="it O" style="top:68px"><span>EMERGENCY FUND</span>$</p></div>
<div class="sc">
<div class="dq I">$<i></i></div><div class="dq K">$<i></i></div><div class="dq O">$<i></i></div><div class="dq Y">$<i></i></div><div class="dq G">$<i></i></div><div class="dq M">$<i></i></div><div class="dq L">$<i></i></div><div class="dq N">$<i></i></div>
</div>
<p class="u">thehappyplanner.com</p>
</div>

<div class="s" style="left:580px;top:672px;height:289px">
<b class="h"></b>
<div class="ac cx N" style="left:6px;top:18px"><b><span class="at">ACCOUNT</span><span class="ab">balance</span><i></i></b><p class="it" style="top:26px"><span>CHECKING</span>$</p><p class="it" style="top:40px"><span>SAVINGS</span>$</p><p class="it" style="top:54px"><span>RETIREMENT</span>$</p><p class="it" style="top:68px"><span>EMERGENCY FUND</span>$</p></div>
<div class="ac cx L" style="left:6px;top:105px"><b><span class="at">ACCOUNT</span><span class="ab">balance</span><i></i></b><p class="it" style="top:26px"><span>CHECKING</span>$</p><p class="it" style="top:40px"><span>SAVINGS</span>$</p><p class="it" style="top:54px"><span>RETIREMENT</span>$</p><p class="it" style="top:68px"><span>EMERGENCY FUND</span>$</p></div>
<div class="ac cx M" style="left:6px;top:193px"><b><span class="at">ACCOUNT</span><span class="ab">balance</span><i></i></b><p class="it" style="top:26px"><span>CHECKING</span>$</p><p class="it" style="top:40px"><span>SAVINGS</span>$</p><p class="it" style="top:54px"><span>RETIREMENT</span>$</p><p class="it" style="top:68px"><span>EMERGENCY FUND</span>$</p></div>
<div class="ac cx G" style="left:94px;top:18px"><b><span class="at">ACCOUNT</span><span class="ab">balance</span><i></i></b><p class="it" style="top:26px"><span>CHECKING</span>$</p><p class="it" style="top:40px"><span>SAVINGS</span>$</p><p class="it" style="top:54px"><span>RETIREMENT</span>$</p><p class="it" style="top:68px"><span>EMERGENCY FUND</span>$</p></div>
<div class="ac cx Y" style="left:94px;top:105px"><b><span class="at">ACCOUNT</span><span class="ab">balance</span><i></i></b><p class="it" style="top:26px"><span>CHECKING</span>$</p><p class="it" style="top:40px"><span>SAVINGS</span>$</p><p class="it" style="top:54px"><span>RETIREMENT</span>$</p><p class="it" style="top:68px"><span>EMERGENCY FUND</span>$</p></div>
<div class="ac cx K" style="left:94px;top:193px"><b><span class="at">ACCOUNT</span><span class="ab">balance</span><i></i></b><p class="it" style="top:26px"><span>CHECKING</span>$</p><p class="it" style="top:40px"><span>SAVINGS</span>$</p><p class="it" style="top:54px"><span>RETIREMENT</span>$</p><p class="it" style="top:68px"><span>EMERGENCY FUND</span>$</p></div>
<div class="sc">
<div class="dq I">$<i></i></div><div class="dq K">$<i></i></div><div class="dq O">$<i></i></div><div class="dq Y">$<i></i></div><div class="dq G">$<i></i></div><div class="dq M">$<i></i></div><div class="dq L">$<i></i></div><div class="dq N">$<i></i></div>
</div>
<p class="u">thehappyplanner.com</p>
</div>

<div class="s" style="left:736px;top:672px;height:289px;border:none">
<div class="st" style="top:0;height:41px;--c:#a6de7b"></div>
<div class="st" style="top:41px;height:24px;--c:#5a63c3"></div>
<div class="st" style="top:65px;height:24px;--c:#8d98d8"></div>
<div class="st" style="top:89px;height:24px;--c:#bda5dc"></div>
<div class="st" style="top:113px;height:24px;--c:#7fd8c5"></div>
<div class="st" style="top:137px;height:24px;--c:#a9ebdc"></div>
<div class="st" style="top:161px;height:25px;--c:#8fd86c"></div>
<div class="st" style="top:186px;height:24px;--c:#f6d67c"></div>
<div class="st" style="top:210px;height:25px;--c:#f3ad84"></div>
<div class="st" style="top:235px;height:24px;--c:#d656ab"></div>
<div class="st" style="top:259px;height:30px;--c:#e9b8e2"></div>
<div class="pt" style="top:19px;height:19px"></div>
<div class="pt" style="top:43px;height:19px"></div>
<div class="pt" style="top:115px;height:19px"></div>
<div class="pt" style="top:139px;height:19px"></div>
<div class="pt" style="top:163px;height:19px"></div>
<div class="pt" style="top:188px;height:19px"></div>
<div class="pt" style="top:212px;height:19px"></div>
<div class="pt" style="top:237px;height:19px"></div>
<div class="pt" style="top:261px;height:19px"></div>
<div class="pt" style="top:91px;height:19px;opacity:.6"></div>
<b class="h" style="border-color:rgba(0,0,0,.12)"></b>
</div>
</body></html>
